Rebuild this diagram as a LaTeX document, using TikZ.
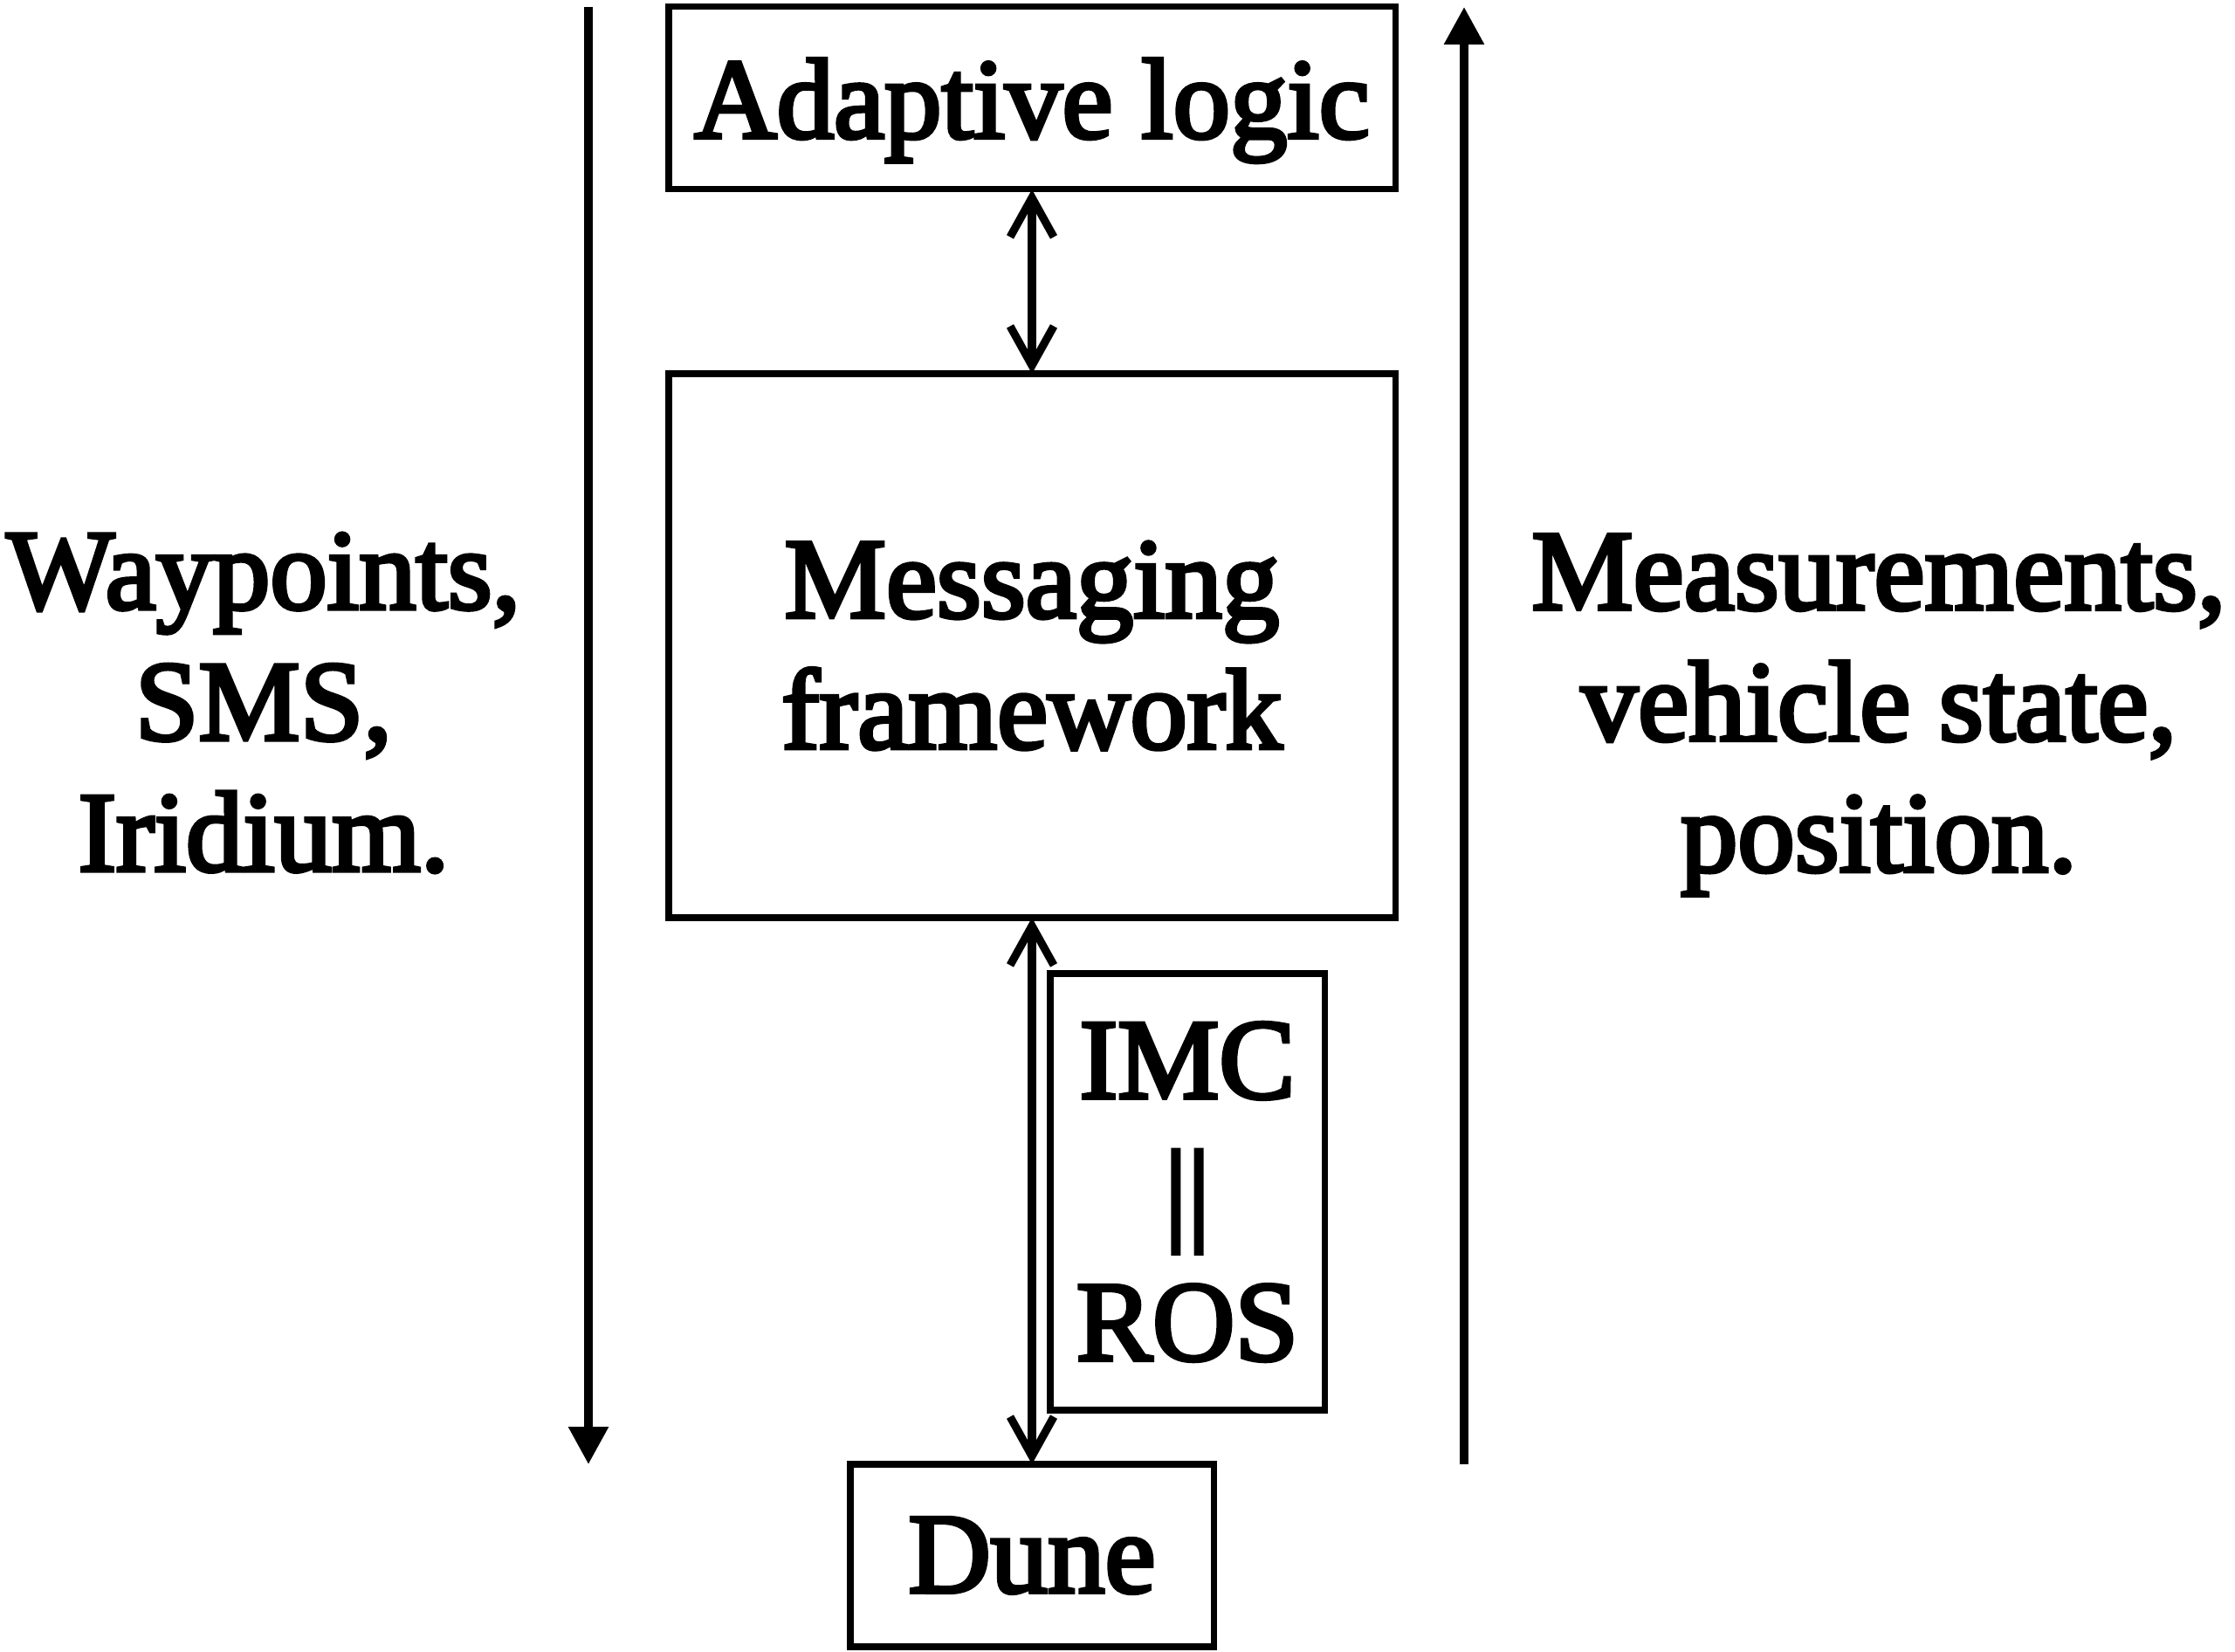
\documentclass[tikz,border=0pt]{standalone}
\usepackage{fontspec}
\setmainfont[FakeBold=3.5]{Liberation Serif}
\usetikzlibrary{arrows.meta,positioning}
\tikzset{
  basic/.style  = {draw, line width=2pt, inner sep=0pt, outer sep=0pt, align=center,
                   font=\fontsize{37.2}{42.7}\selectfont},
  block/.style  = {basic, rectangle, minimum width=8.32cm},
  small/.style  = {basic, rectangle},
  label/.style  = {align=center, inner sep=0pt, font=\fontsize{37.2}{42.7}\selectfont},
  flow/.style   = {line width=2.6pt, -{Triangle[length=0.43cm,width=0.44cm]}},
  link/.style   = {line width=2.6pt, {Straight Barb[length=0.45cm,width=0.5cm,line width=2.6pt]}-{Straight Barb[length=0.45cm,width=0.5cm,line width=2.6pt]}}
}
\begin{document}
\begin{tikzpicture}
\useasboundingbox (0,0) rectangle (25.6,-18.92);

% middle column
\node[block, minimum height=2.09cm, text depth=0pt] (adapt) at (11.82,-1.125) {Adaptive logic};
\node[block, minimum height=6.23cm, below=2.11cm of adapt] (msg) {Messaging\\framework};
\node[small, minimum width=4.16cm, minimum height=2.09cm, below=6.26cm of msg] (dune) {Dune};
\node[small, minimum width=3.14cm, minimum height=5.0cm, anchor=north west] (proto) at (12.03,-11.15) {IMC\\||\\ROS};

\draw[link] (adapt) -- (msg);
\draw[link] (msg) -- (dune);

% side streams
\coordinate (cmd top) at (6.74,-0.08);
\coordinate (cmd bot) at (6.74,-16.77);
\coordinate (obs bot) at (16.77,-16.77);
\coordinate (obs top) at (16.77,-0.08);

\draw[flow] (cmd top) -- (cmd bot);
\draw[flow] (obs bot) -- (obs top);

\node[label] (cmd) at (3.02,-8.05) {Waypoints,\\SMS,\\Iridium.};
\node[label] (obs) at (21.52,-8.19) {Measurements,\\vehicle state,\\position.};
\end{tikzpicture}
\end{document}
